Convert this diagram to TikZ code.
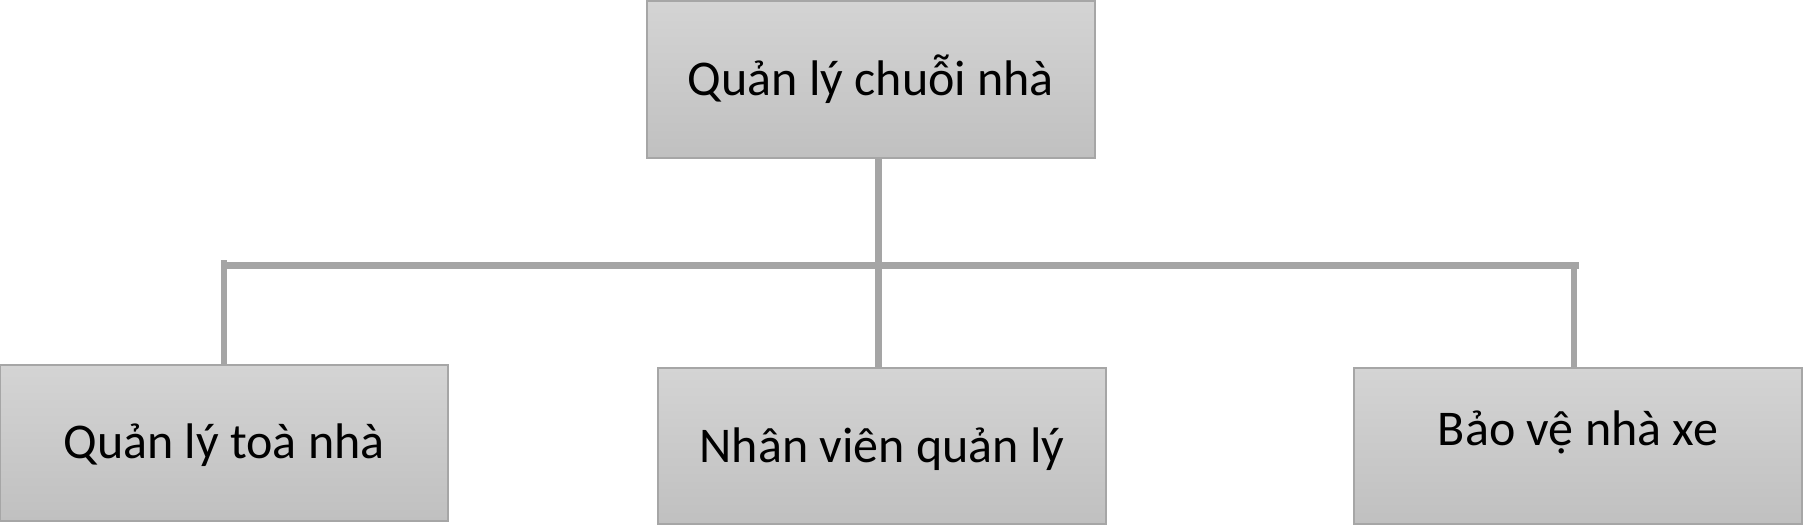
\documentclass[tikz,border=0pt]{standalone}
\usepackage{fontspec}
\setmainfont{Carlito}
\definecolor{boxline}{HTML}{A6A6A6}
\definecolor{connline}{HTML}{A5A5A5}
\definecolor{topgray}{HTML}{D4D4D4}
\definecolor{botgray}{HTML}{C0C0C0}
\begin{document}
\begin{tikzpicture}[x=1pt,y=1pt,
  box/.style={draw=boxline, line width=1.5pt, top color=topgray, bottom color=botgray,
    inner sep=0pt, minimum width=448pt, minimum height=156pt,
    font=\fontsize{50}{60}\selectfont, text height=32pt, text depth=0pt},
  conn/.style={draw=connline, line width=6.6pt}]
\useasboundingbox (0,0) rectangle (1803,525);
\node[box, minimum height=157pt] (top) at (871,445.5) {Quản lý chuỗi nhà};
\node[box] (c1) at (224,82.25) {Quản lý toà nhà};
\node[box] (c2) at (882,79) {Nhân viên quản lý};
\node[box, text depth=34pt] (c3) at (1578,79) {Bảo vệ nhà xe};
\coordinate (hub) at (878.5,259.5);
\coordinate (bl) at (221,259.5);
\coordinate (br) at (1579,259.5);
\coordinate (lv) at (224,265);
\coordinate (rv) at (1574,259.5);
\draw[conn] (top.south -| hub) -- (c2.north -| hub);
\draw[conn] (bl) -- (br);
\draw[conn] (c1.north -| lv) -- (lv);
\draw[conn] (c3.north -| rv) -- (rv);
\end{tikzpicture}
\end{document}
